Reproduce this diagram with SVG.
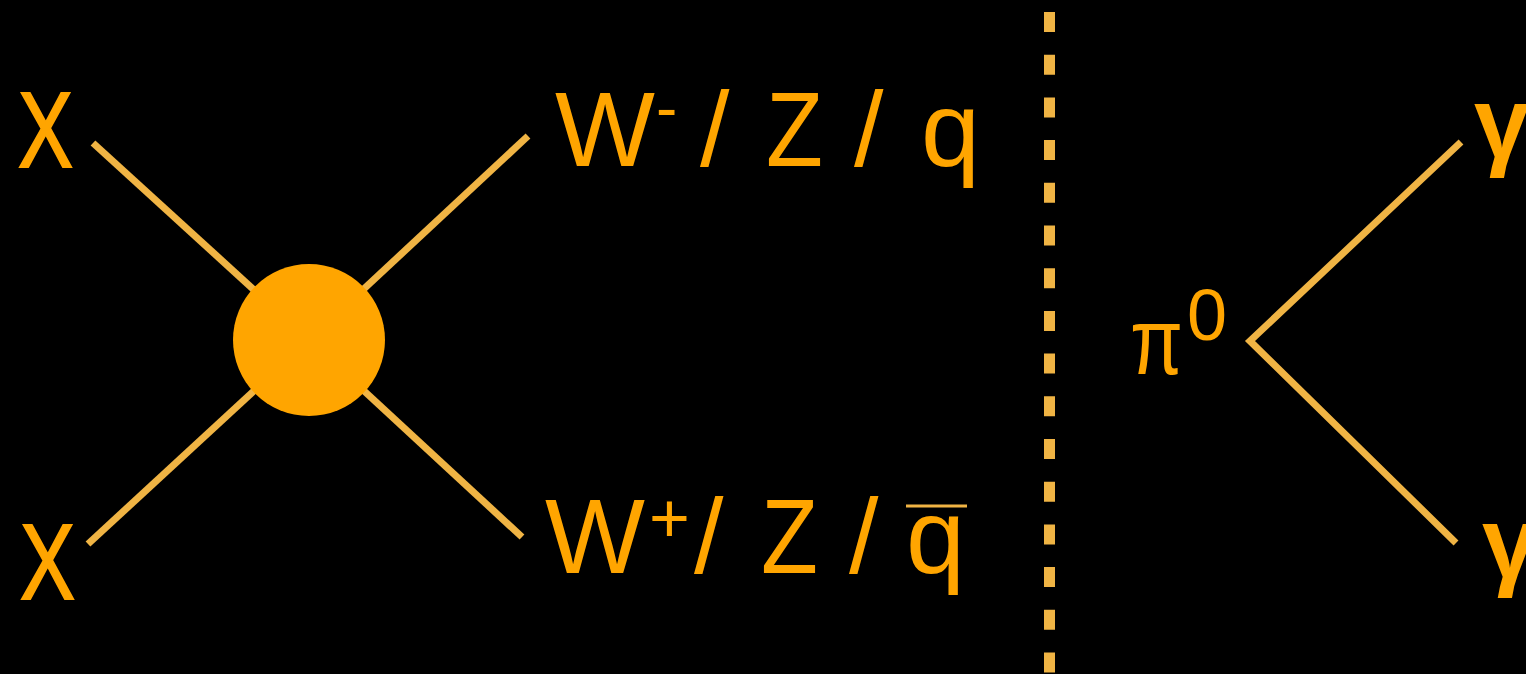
<svg xmlns="http://www.w3.org/2000/svg" width="1526" height="674" viewBox="0 0 1526 674">
<style>
.t{fill:#FFA500;font-family:"Liberation Sans",Arial,sans-serif;}
.big{font-size:106px;}
.ln{stroke:#F0B444;stroke-width:7;fill:none;}
.g{font-size:100px;font-weight:bold;}
</style>
<rect width="1526" height="674" fill="#000"/>
<g id="connectors">
<line class="ln" x1="93" y1="143" x2="309" y2="340"/>
<line class="ln" x1="88" y1="544" x2="309" y2="340"/>
<line class="ln" x1="528" y1="136" x2="309" y2="340"/>
<line class="ln" x1="522" y1="537" x2="309" y2="340"/>
<polyline class="ln" points="1461,142 1250,341 1456,543" stroke-linejoin="miter"/>
</g>
<g id="divider">
<line x1="1049.5" y1="12" x2="1049.5" y2="674" stroke="#F0B444" stroke-width="11" stroke-dasharray="20 22.7"/>
</g>
<g id="vertex">
<circle cx="309" cy="340" r="76" fill="#FFA500"/>
</g>
<g id="x-top"><text class="t" x="18" y="167" font-size="108" stroke="#FFA500" stroke-width="2" textLength="55" lengthAdjust="spacingAndGlyphs">X</text></g>
<g id="x-bottom"><text class="t" x="20" y="599" font-size="108" stroke="#FFA500" stroke-width="2" textLength="55" lengthAdjust="spacingAndGlyphs">X</text></g>
<g id="out-top">
<text class="t big" x="555" y="166" textLength="100" lengthAdjust="spacingAndGlyphs">W</text>
<text class="t" x="656" y="130" font-size="64">-</text>
<text class="t big" x="700" y="166">/</text>
<text class="t big" x="766" y="166" textLength="57" lengthAdjust="spacingAndGlyphs">Z</text>
<text class="t big" x="854" y="166">/</text>
<text class="t big" x="921" y="166">q</text>
</g>
<g id="out-bottom">
<text class="t big" x="545" y="573" textLength="100" lengthAdjust="spacingAndGlyphs">W</text>
<text class="t" x="649" y="542" font-size="70">+</text>
<text class="t big" x="694" y="573">/</text>
<text class="t big" x="761" y="573" textLength="57" lengthAdjust="spacingAndGlyphs">Z</text>
<text class="t big" x="849" y="573">/</text>
<text class="t big" x="906" y="573">q</text>
<line x1="906" y1="506" x2="967" y2="506" stroke="#F0B444" stroke-width="3"/>
</g>
<g id="pi0">
<text class="t" x="1130" y="374" font-size="95" textLength="53" lengthAdjust="spacingAndGlyphs">π</text>
<text class="t" x="1187" y="340" font-size="72">0</text>
</g>
<g id="gamma-top"><text class="t g" x="1474" y="157">γ</text></g>
<g id="gamma-bottom"><text class="t g" x="1482" y="577">γ</text></g>
</svg>
